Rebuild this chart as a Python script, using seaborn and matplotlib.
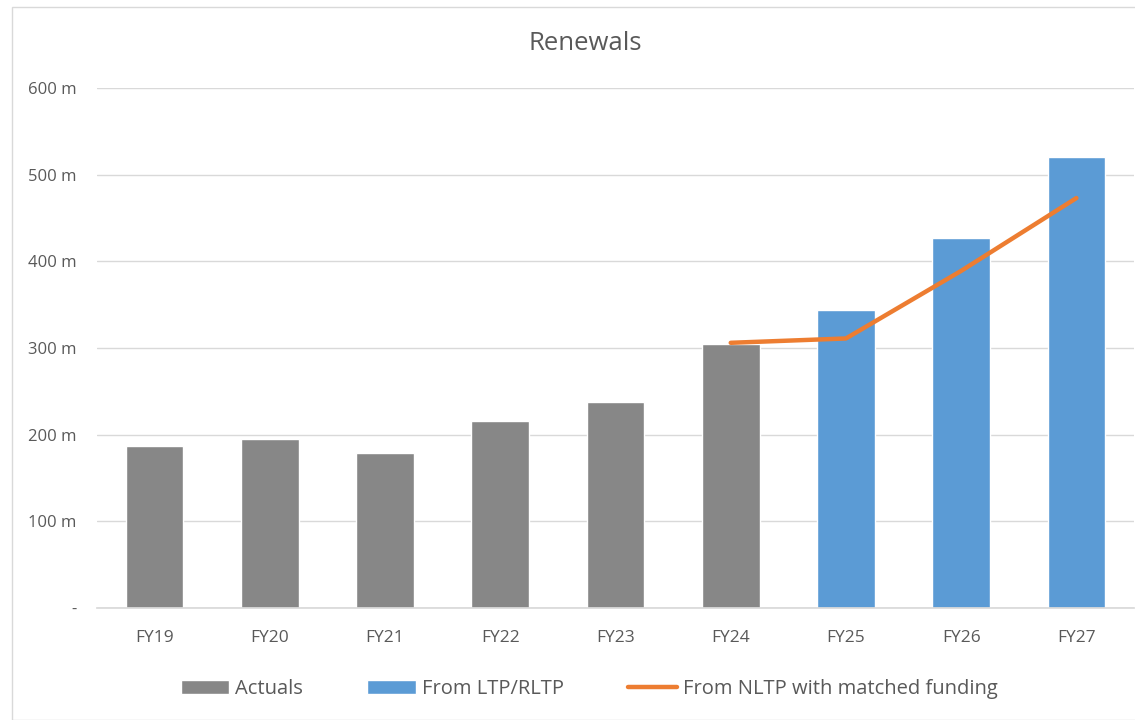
"""
Renewals chart: actuals vs LTP/RLTP forecast bars, with NLTP matched funding line.
"""
import matplotlib

matplotlib.use("Agg")
import matplotlib.pyplot as plt
from matplotlib.patches import Patch, Rectangle
from matplotlib.lines import Line2D
import pandas as pd
import seaborn as sns

years = ["FY19", "FY20", "FY21", "FY22", "FY23", "FY24", "FY25", "FY26", "FY27"]
renewals = [187, 195, 179, 216, 238, 305, 344, 427, 520]
source = ["Actuals"] * 6 + ["From LTP/RLTP"] * 3
nltp_years = ["FY24", "FY25", "FY26", "FY27"]
nltp_values = [306, 311, 389, 473]
y_ticks = [0, 100, 200, 300, 400, 500, 600]
y_tick_labels = ["-", "100 m", "200 m", "300 m", "400 m", "500 m", "600 m"]

GREY = "#878787"
BLUE = "#5b9bd5"
ORANGE = "#ed7d31"
TEXT = "#595959"


def main() -> None:
    sns.set_theme(style="white")
    plt.rcParams["font.family"] = ["Open Sans", "DejaVu Sans"]

    df = pd.DataFrame({"year": years, "value": renewals, "source": source})

    fig = plt.figure(figsize=(11.35, 7.2), dpi=100)
    ax = fig.add_axes([97 / 1135, 112 / 720, 1037 / 1135, 520 / 720])

    sns.barplot(
        data=df, x="year", y="value", hue="source", order=years,
        palette={"Actuals": GREY, "From LTP/RLTP": BLUE},
        dodge=False, width=0.5, saturation=1, legend=False, ax=ax,
    )
    xs = [years.index(y) for y in nltp_years]
    ax.plot(xs, nltp_values, color=ORANGE, lw=3.2, solid_capstyle="round", zorder=4)

    ax.set_ylim(0, 600)
    ax.set_xlim(-0.5, len(years) - 0.5)
    ax.set_yticks(y_ticks)
    ax.set_yticklabels(y_tick_labels)
    ax.yaxis.grid(True, color="#d9d9d9", lw=1)
    ax.set_axisbelow(True)
    for s in ["top", "right", "left"]:
        ax.spines[s].set_visible(False)
    ax.spines["bottom"].set_color("#d9d9d9")
    ax.tick_params(axis="both", length=0, labelcolor=TEXT)
    ax.tick_params(axis="y", pad=15, labelsize=12)
    ax.tick_params(axis="x", pad=16, labelsize=12.5)
    ax.set_xlabel("")
    ax.set_ylabel("")

    fig.text(585 / 1135, 1 - 43 / 720, "Renewals", ha="center", va="center",
             fontsize=18.5, color=TEXT)

    handles = [
        Patch(facecolor=GREY, label="Actuals"),
        Patch(facecolor=BLUE, label="From LTP/RLTP"),
        Line2D([], [], color=ORANGE, lw=3.2, label="From NLTP with matched funding"),
    ]
    fig.legend(handles=handles, loc="center", bbox_to_anchor=(589 / 1135, 1 - 689 / 720),
               ncol=3, frameon=False, fontsize=14.5, labelcolor=TEXT,
               handlelength=2.4, handleheight=0.75, columnspacing=3.2, handletextpad=0.3)

    fig.patches.append(Rectangle((12 / 1135, 0), 1.0, 1 - 7 / 720, transform=fig.transFigure,
                                 fill=False, edgecolor="#d9d9d9", lw=1))

    fig.savefig("out.png", dpi=100)
    plt.close(fig)


if __name__ == "__main__":
    main()
